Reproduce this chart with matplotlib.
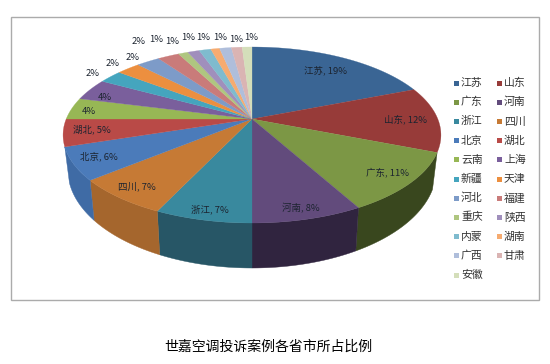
#!/usr/bin/env python3
"""3D-look pie: share of complaint cases per province, drawn as polygons in pixel coords."""
import numpy as np
import matplotlib
matplotlib.use("Agg")
import matplotlib.pyplot as plt
from matplotlib.patches import Polygon, Rectangle

plt.rcParams['font.family'] = ['Noto Sans CJK SC', 'DejaVu Sans']

provinces = ["江苏", "山东", "广东", "河南", "浙江", "四川", "北京", "湖北", "云南", "上海", "新疆",
             "天津", "河北", "福建", "重庆", "陕西", "内蒙", "湖南", "广西", "甘肃", "安徽"]
shares = [19, 12, 11, 8, 7, 7, 6, 5, 4, 4, 2.4,
          2.4, 2.4, 2.2, 1.0, 1.2, 1.2, 0.9, 1.2, 1.1, 1.0]
colors = ["#3A6594", "#973B39", "#7C9745", "#624B7C", "#39899E", "#C67A35", "#4B7BBA", "#B94A47",
          "#97B755", "#7A5F9C", "#45A5BE", "#EC8F3F", "#7D9BC8", "#C97B7A", "#AFC680", "#A08FBC",
          "#7FBBCE", "#F6AB70", "#AFBEDB", "#DAB4B3", "#D4DEBA"]
side_colors = ["#2B4A6C", "#6A2A28", "#39471E", "#30243F", "#275666", "#A5662D", "#3F6BA5", "#8A3634"]

# ---------------------------------------------------------------------------
# Perspective of the disc (pixels)
# ---------------------------------------------------------------------------
AX, AY = 252.0, 119.0     # apex of the slices
A, B, K = 185.8, 85.1, 0.1818


def rim(pct):
    """Top rim point for a cumulative percentage, clockwise from 12 o'clock."""
    th = np.radians(np.asarray(pct, dtype=float) * 3.6)
    u, v = np.sin(th), np.cos(th)
    d = 1 + K * v
    return AX + A * u / d, AY - B * v / d


def lower(x, y):
    """Matching point on the lower rim of the wall."""
    return AX + (x - AX) * 0.975, y + 40 + (y - 180) * 0.116


fig = plt.figure(figsize=(5.5, 3.64), dpi=100)
ax = fig.add_axes([0, 0, 1, 1])
ax.set_xlim(0, 550)
ax.set_ylim(364, 0)
ax.axis("off")

ax.add_patch(Rectangle((10.5, 16.5), 528, 283.5, fc="white", ec="#ABABAB", lw=1.0, zorder=0))

# ---------------------------------------------------------------------------
# Walls, then top faces
# ---------------------------------------------------------------------------
edges = np.concatenate([[0], np.cumsum(shares)]) / np.sum(shares) * 100
WALL_A, WALL_B = 31.0, 70.0   # cumulative % where the wall becomes visible

for i in range(len(shares)):
    p0, p1 = max(edges[i], WALL_A), min(edges[i + 1], WALL_B)
    if p1 > p0:
        x, y = rim(np.linspace(p0, p1, 40))
        xl, yl = lower(x, y)
        pts = np.r_[np.c_[x, y], np.c_[xl, yl][::-1]]
        ax.add_patch(Polygon(pts, fc=side_colors[i], ec=side_colors[i], lw=0.3, zorder=1))

for i in range(len(shares)):
    x, y = rim(np.linspace(edges[i], edges[i + 1], 40))
    pts = np.r_[[[AX, AY]], np.c_[x, y]]
    ax.add_patch(Polygon(pts, fc=colors[i], ec=colors[i], lw=0.2, zorder=2))

# ---------------------------------------------------------------------------
# Data labels
# ---------------------------------------------------------------------------
label_xy = [(325, 70), (405, 119), (387, 172), (301, 208), (210, 209), (137, 186), (99, 156),
            (92, 129), (89, 112), (105, 97), (93, 73), (113, 64), (133, 58), (139, 42),
            (156, 39), (172, 41), (188, 37), (203, 38), (220, 38), (236, 39), (251, 38)]
for i, (lx, ly) in enumerate(label_xy):
    pct = f"{shares[i]:.0f}%"
    txt = f"{provinces[i]}, {pct}" if i < 8 else pct
    ax.text(lx, ly, txt, ha="center", va="center", fontsize=6.8, color="#1c2430", zorder=4)

# ---------------------------------------------------------------------------
# Legend, two columns
# ---------------------------------------------------------------------------
for i, name in enumerate(provinces):
    row, col = divmod(i, 2)
    mx = 456 + col * 43
    my = 83 + row * 19.2
    ax.add_patch(Rectangle((mx - 2.5, my - 2.5), 5, 5, fc=colors[i], ec="none", zorder=3))
    ax.text(mx + 5, my, name, ha="left", va="center", fontsize=7.8, color="#333333", zorder=3)

ax.text(268.5, 347, "世嘉空调投诉案例各省市所占比例", ha="center", va="center",
        fontsize=10, color="black")

fig.savefig("out.png", dpi=100, facecolor="white")
